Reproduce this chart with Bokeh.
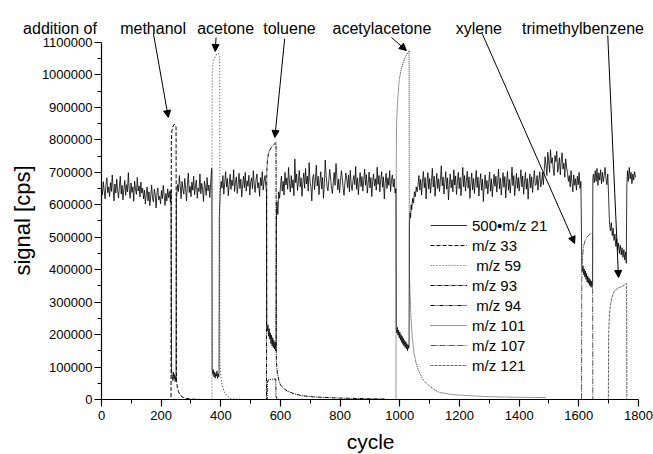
import math
from bokeh.plotting import figure
from bokeh.models import (Range1d, FixedTicker, NumeralTickFormatter, Legend,
                          LegendItem, Label, Arrow, NormalHead)
from bokeh.embed import file_html
from bokeh.resources import INLINE

FONT = "Liberation Sans"

# ---------------- data ----------------
# 500 * m/z 21 (primary ion signal), sampled every few cycles
m21_cycle = (list(range(0, 232, 3)) + [233, 235, 237, 239, 241, 243, 245, 247, 249, 250, 251]
             + list(range(252, 370, 3)) + [370, 371, 373, 375, 377, 379, 381, 383, 385, 387, 389, 391, 393, 394, 395]
             + list(range(398, 552, 3)) + [553, 554] + list(range(556, 585, 2)) + [585, 586, 588, 591, 594]
             + list(range(597, 988, 3)) + [988] + list(range(990, 1031, 2))
             + [1031, 1032, 1034, 1036, 1038, 1040, 1043, 1046, 1049, 1052, 1055]
             + list(range(1058, 1482, 3)) + list(range(1484, 1608, 3)) + [1610] + list(range(1612, 1647, 2)) + [1647]
             + list(range(1649, 1698, 3)) + [1700] + list(range(1703, 1758, 3)) + [1759, 1761]
             + list(range(1763, 1791, 3)))
m21_signal = [
    # 0 - 231
    652000, 630000, 671000, 644000, 618000, 660000, 683000, 637000, 655000, 625000,
    668000, 641000, 692000, 650000, 612000, 664000, 636000, 679000, 646000, 621000,
    657000, 688000, 633000, 660000, 615000, 648000, 675000, 629000, 662000, 640000,
    699000, 645000, 620000, 667000, 638000, 655000, 611000, 673000, 649000, 632000,
    684000, 642000, 658000, 624000, 670000, 636000, 651000,
    618000, 645000, 602000, 633000, 655000, 612000, 640000, 597000, 628000, 661000,
    620000, 609000, 648000, 631000, 590000, 637000, 652000, 615000, 626000, 603000,
    644000, 619000, 660000, 630000, 598000, 635000, 612000, 649000, 622000, 641000, 608000,
    # methanol dip
    645000, 88000, 72000, 58000, 84000, 63000, 77000, 55000, 70000, 61000, 622000,
    # 252 - 369
    628000, 662000, 641000, 690000, 655000, 619000, 672000, 646000, 633000, 681000,
    650000, 612000, 664000, 698000, 638000, 657000, 625000, 670000, 645000, 688000,
    631000, 659000, 676000, 620000, 652000, 641000, 695000, 634000, 666000, 648000,
    610000, 673000, 655000, 629000, 684000, 643000, 661000, 622000, 668000, 712000,
    # acetone dip
    705000, 95000, 78000, 92000, 70000, 85000, 66000, 80000, 72000, 88000, 65000,
    79000, 70000, 83000, 565000,
    # 398 - 551
    640000, 672000, 651000, 690000, 633000, 668000, 702000, 655000, 681000, 628000,
    663000, 694000, 647000, 676000, 659000, 708000, 641000, 670000, 686000, 635000,
    662000, 697000, 650000, 679000, 624000, 661000, 688000, 653000, 700000, 642000,
    674000, 657000, 691000, 630000, 667000, 683000, 649000, 705000, 661000, 638000,
    677000, 695000, 652000, 668000, 626000, 684000, 659000, 702000, 645000, 673000,
    690000, 656000,
    # toluene dip
    640000, 225000,
    212000, 230000, 195000, 218000, 186000, 205000, 172000, 198000, 165000, 190000,
    160000, 182000, 155000, 176000, 150000,
    158000, 540000, 610000, 570000, 640000,
    # 597 - 987
    620000, 655000, 688000, 642000, 672000, 630000, 700000, 661000, 683000, 648000,
    715000, 666000, 639000, 690000, 652000, 677000, 628000, 741000, 668000, 695000,
    644000, 672000, 706000, 655000, 683000, 626000, 669000, 698000, 651000, 712000,
    664000, 688000, 642000, 730000, 670000, 655000, 612000, 684000, 693000, 647000,
    676000, 722000, 658000, 688000, 631000, 670000, 702000, 649000, 684000, 620000,
    665000, 738000, 690000, 656000, 643000, 675000, 709000, 682000, 651000, 635000,
    668000, 700000, 660000, 727000, 688000, 646000, 679000, 637000, 672000, 705000,
    684000, 650000, 629000, 667000, 698000, 680000, 653000, 692000, 640000, 706000,
    661000, 644000, 675000, 690000, 662000, 718000, 648000, 683000, 631000, 670000,
    699000, 656000, 687000, 642000, 675000, 710000, 660000, 693000, 636000, 668000,
    701000, 652000, 684000, 625000, 672000, 695000, 658000, 680000, 645000, 716000,
    663000, 690000, 640000, 677000, 702000, 654000, 686000, 618000, 669000, 697000,
    650000, 683000, 660000, 705000, 641000, 676000, 692000, 655000, 680000, 636000,
    650000,
    # acetylacetone dip
    215000,
    205000, 222000, 198000, 214000, 190000, 208000, 183000, 200000, 176000, 195000,
    170000, 188000, 165000, 182000, 160000, 178000, 156000, 172000, 150000, 168000,
    158000,
    172000, 540000, 575000, 560000, 600000, 585000, 620000, 605000, 640000, 625000, 655000,
    # 1058 - 1481
    640000, 662000, 690000, 645000, 678000, 630000, 671000, 703000, 652000, 684000,
    618000, 667000, 699000, 648000, 681000, 636000, 672000, 712000, 655000, 688000,
    626000, 664000, 697000, 650000, 680000, 641000, 676000, 720000, 658000, 686000,
    633000, 669000, 702000, 648000, 683000, 615000, 662000, 695000, 652000, 677000,
    640000, 708000, 661000, 689000, 632000, 671000, 700000, 650000, 684000, 628000,
    667000, 715000, 655000, 690000, 642000, 674000, 703000, 651000, 686000, 620000,
    664000, 698000, 646000, 681000, 635000, 670000, 706000, 653000, 685000, 627000,
    666000, 696000, 645000, 679000, 610000, 660000, 692000, 650000, 675000, 633000,
    668000, 701000, 642000, 680000, 625000, 662000, 694000, 657000, 688000, 639000,
    673000, 710000, 649000, 682000, 630000, 666000, 699000, 654000, 687000, 621000,
    669000, 703000, 645000, 678000, 636000, 672000, 716000, 659000, 690000, 628000,
    663000, 697000, 651000, 684000, 642000, 675000, 708000, 655000, 689000, 632000,
    670000, 700000, 648000, 681000, 617000, 664000, 695000, 652000, 686000, 638000,
    674000, 705000, 660000, 662000, 690000, 645000, 677000, 702000, 655000, 668000,
    700000, 662000,
    # 1484 - 1607 (raised level)
    705000, 748000, 722000, 690000, 762000, 735000, 700000, 770000, 728000, 745000,
    712000, 690000, 752000, 733000, 765000, 700000, 718000, 745000, 692000, 738000,
    760000, 710000, 728000, 685000, 742000, 715000,
    700000, 672000, 690000, 655000, 705000, 668000, 640000, 692000, 660000, 680000,
    645000, 688000, 662000, 700000, 650000, 672000,
    # xylene dip
    410000,
    395000, 412000, 385000, 402000, 378000, 396000, 370000, 388000, 362000, 380000,
    358000, 375000, 352000, 370000, 348000, 365000, 345000, 360000,
    680000,
    # 1649 - 1697
    695000, 668000, 705000, 672000, 712000, 660000, 698000, 676000, 708000, 665000,
    700000, 671000, 690000, 715000, 680000, 662000, 695000,
    # trimethylbenzene dip
    620000,
    540000, 520000, 545000, 505000, 528000, 490000, 510000, 472000, 495000, 460000,
    482000, 450000, 475000, 445000, 468000, 438000, 462000, 430000, 455000,
    420000, 660000,
    # 1763 - 1790
    705000, 672000, 715000, 680000, 700000, 665000, 695000, 676000, 702000, 684000,
]
assert len(m21_cycle) == len(m21_signal), (len(m21_cycle), len(m21_signal))

# m/z 33 (methanol)
m33_cycle = [0, 233, 234, 236, 240, 244, 248, 250, 251, 254, 258, 264, 272, 285, 305, 340]
m33_signal = [0, 0, 790000, 828000, 842000, 848000, 846000, 838000, 60000, 38000, 24000,
              13000, 7000, 3000, 1000, 0]

# m/z 59 (acetone)
m59_cycle = [340, 370, 371, 373, 377, 382, 387, 392, 396, 397, 400, 405, 412, 420, 432, 450, 480]
m59_signal = [0, 0, 995000, 1030000, 1048000, 1058000, 1065000, 1066000, 1060000, 110000,
              70000, 42000, 22000, 11000, 4000, 1000, 0]

# m/z 93 (toluene)
m93_cycle = [520, 553, 554, 556, 560, 566, 572, 578, 584, 585, 586, 589, 594, 600, 610,
             625, 645, 670, 710, 780, 860, 950]
m93_signal = [0, 0, 700000, 735000, 760000, 772000, 780000, 786000, 790000, 792000, 120000,
              85000, 60000, 45000, 34000, 25000, 18000, 12000, 8000, 5000, 3000, 1500]

# m/z 94 (toluene isotope)
m94_cycle = [520, 555, 556, 559, 565, 575, 584, 585, 587, 590, 600]
m94_signal = [0, 0, 52000, 60000, 62000, 63000, 63000, 10000, 4000, 1500, 0]

# m/z 101 (acetylacetone)
m101_cycle = [950, 987, 988, 989, 993, 998, 1004, 1010, 1016, 1022, 1027, 1031, 1032, 1034,
              1037, 1041, 1047, 1055, 1065, 1078, 1090, 1110, 1132, 1176, 1230, 1290, 1380, 1490]
m101_signal = [0, 0, 700000, 850000, 925000, 985000, 1015000, 1035000, 1050000, 1062000,
               1070000, 1075000, 400000, 330000, 260000, 200000, 145000, 110000, 85000,
               60000, 49000, 34000, 22000, 15000, 12000, 9000, 7000, 6000]

# m/z 107 (xylene)
m107_cycle = [1580, 1609, 1610, 1612, 1616, 1621, 1627, 1633, 1639, 1644, 1646, 1647, 1660]
m107_signal = [0, 0, 400000, 440000, 472000, 490000, 500000, 506000, 510000, 512000, 513000, 0, 0]

# m/z 121 (trimethylbenzene)
m121_cycle = [1680, 1699, 1700, 1702, 1705, 1710, 1716, 1722, 1730, 1739, 1748, 1756, 1760, 1761, 1775]
m121_signal = [0, 0, 200000, 250000, 285000, 312000, 328000, 337000, 342000, 346000, 350000,
               355000, 358000, 0, 0]

legend_labels = ["500\u2022m/z 21", "m/z 33", "\u00a0m/z 59", "m/z 93", "\u00a0m/z 94",
                 "m/z 101", "m/z 107", "m/z 121"]

x_ticks = [0, 200, 400, 600, 800, 1000, 1200, 1400, 1600, 1800]
x_minor = [100, 300, 500, 700, 900, 1100, 1300, 1500, 1700]
y_ticks = [0, 100000, 200000, 300000, 400000, 500000, 600000, 700000, 800000, 900000,
           1000000, 1100000]
y_minor = [50000, 150000, 250000, 350000, 450000, 550000, 650000, 750000, 850000,
           950000, 1050000]

# annotations: texts above the plot and arrows to the peaks
note_text = ["addition of", "methanol", "acetone", "toluene", "acetylacetone", "xylene",
             "trimethylbenzene"]
note_cycle = [-139, 173, 416, 630, 940, 1265, 1614]
note_signal = [1143000] * 7
arrow_x0 = [174, 384, 614, 972, 1276, 1697]
arrow_y0 = [1127700, 1115400, 1112300, 1115400, 1127700, 1121600]
arrow_x1 = [224, 381, 581, 1022, 1586, 1733]
arrow_y1 = [868900, 1072300, 807300, 1075300, 480700, 375900]

# axis titles (cycle, signal) positions
xtitle_pos = (902, -129400)
ytitle_pos = (-265, 551500)

# ---------------- figure ----------------
# the frame covers the whole canvas; axes sit at cycle 0 / signal 0
p = figure(width=653, height=454, output_backend="svg", toolbar_location=None,
           x_range=Range1d(-338.55, 1850.3), y_range=Range1d(-169466, 1229399),
           min_border_left=0, min_border_right=0, min_border_top=0,
           min_border_bottom=0, title=None)
p.grid.visible = False
p.outline_line_color = None

series = [
    (m21_cycle, m21_signal, "black", 0.8, "solid"),
    (m33_cycle, m33_signal, "black", 1.0, "4 2"),
    (m59_cycle, m59_signal, "#555555", 1.1, "1 2"),
    (m93_cycle, m93_signal, "black", 1.0, "4 1 1 1"),
    (m94_cycle, m94_signal, "black", 1.0, "4 1 1 1 1 1"),
    (m101_cycle, m101_signal, "#333333", 1.0, "1 1"),
    (m107_cycle, m107_signal, "#444444", 0.9, "6 1 1 1"),
    (m121_cycle, m121_signal, "#666666", 1.0, "3 1"),
]
renderers = []
for xs, ys, col, lw, dash in series:
    r = p.line(xs, ys, line_color=col, line_width=lw, line_dash=dash)
    renderers.append(r)

legend = Legend(items=[LegendItem(label=lab, renderers=[r]) for lab, r in zip(legend_labels, renderers)],
                location=(430, 79), padding=0, margin=0, spacing=0,
                glyph_width=37, glyph_height=20, label_height=20, label_standoff=5,
                label_text_font=FONT, label_text_font_size="15px", label_text_color="black",
                background_fill_alpha=0, border_line_color=None)
p.add_layout(legend)

for ax in (p.xaxis[0], p.yaxis[0]):
    ax.fixed_location = 0
    ax.axis_line_color = "black"
    ax.axis_line_width = 1.2
    ax.major_tick_line_color = "black"
    ax.minor_tick_line_color = "black"
    ax.major_tick_line_width = 1.2
    ax.minor_tick_line_width = 1.0
    ax.major_tick_in = 0
    ax.major_tick_out = 7
    ax.minor_tick_in = 0
    ax.minor_tick_out = 4
    ax.major_label_text_font = FONT
    ax.major_label_text_font_size = "13px"
    ax.major_label_text_color = "black"

p.xaxis.ticker = FixedTicker(ticks=x_ticks, minor_ticks=x_minor)
p.yaxis.ticker = FixedTicker(ticks=y_ticks, minor_ticks=y_minor)
p.yaxis.formatter = NumeralTickFormatter(format="0")
p.xaxis.bounds = (0, 1800)
p.yaxis.bounds = (0, 1100000)
p.xaxis.major_label_standoff = 4
p.yaxis.major_label_standoff = 2

p.add_layout(Label(x=xtitle_pos[0], y=xtitle_pos[1], text="cycle", text_font=FONT,
                   text_font_size="21px", text_color="black",
                   text_align="center", text_baseline="alphabetic"))
p.add_layout(Label(x=ytitle_pos[0], y=ytitle_pos[1], text="signal [cps]", text_font=FONT,
                   text_font_size="22px", text_color="black",
                   text_align="center", text_baseline="middle", angle=math.pi / 2))

for t, xc, yc in zip(note_text, note_cycle, note_signal):
    p.add_layout(Label(x=xc, y=yc, text=t, text_font=FONT, text_font_size="16px",
                       text_color="black", text_align="center", text_baseline="alphabetic"))

for x0, y0, x1, y1 in zip(arrow_x0, arrow_y0, arrow_x1, arrow_y1):
    p.add_layout(Arrow(end=NormalHead(size=7, fill_color="black", line_color="black", line_width=1),
                       x_start=x0, y_start=y0, x_end=x1, y_end=y1,
                       line_color="black", line_width=1))

open("out.html", "w").write(file_html(p, INLINE))
